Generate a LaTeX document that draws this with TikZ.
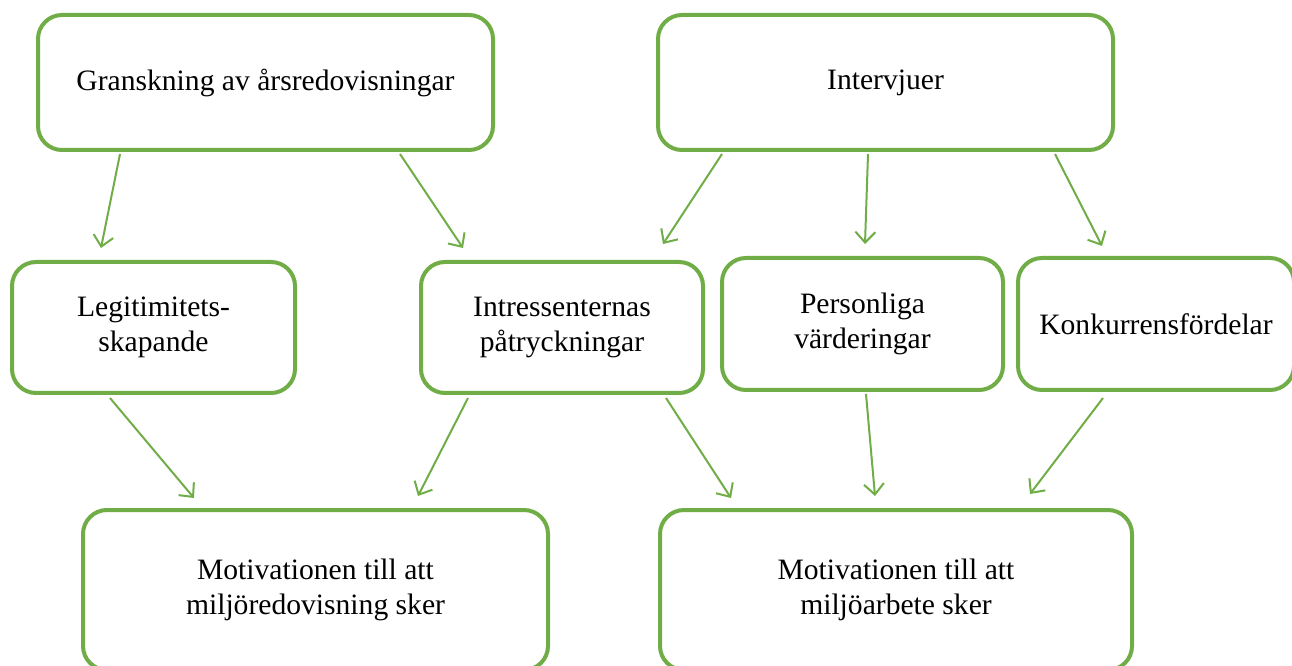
\documentclass[tikz,border=0pt]{standalone}
\usepackage{fontspec}
\setmainfont{Liberation Serif}
\usetikzlibrary{arrows.meta,calc}
\definecolor{grn}{RGB}{112,173,71}
\tikzset{
  box/.style n args={2}{draw=grn, line width=3pt, rounded corners=18pt, fill=white,
    minimum width=#1*0.75pt, minimum height=#2*0.75pt, align=center,
    font=\fontsize{22.2}{26}\selectfont, inner sep=0pt},
  conn/.style={draw=grn, line width=1.5pt, -{Straight Barb[length=8pt,width=15pt,line width=1.5pt]}}
}
\begin{document}
\begin{tikzpicture}[x=0.75pt,y=-0.75pt]
\useasboundingbox (0,0) rectangle (1292,666);
\node[box={455}{135}] (A) at (265.5,82.5) {\raisebox{-3pt}{Granskning av årsredovisningar}};
\node[box={455}{135}] (B) at (885.5,82.5) {\raisebox{-3pt}{Intervjuer}};
\node[box={283}{131}] (C) at (153.5,327.5) {Legitimitets-\\skapande};
\node[box={282}{131}] (D) at (562,327.5) {Intressenternas\\påtryckningar};
\node[box={281}{132}] (E) at (862.5,324) {Personliga\\värderingar};
\node[box={276}{132}] (F) at (1156,324) {\raisebox{-2pt}{Konkurrensfördelar}};
\node[box={465}{160}] (G) at (315.5,590) {Motivationen till att\\miljöredovisning sker};
\node[box={472}{160}] (H) at (896,590) {Motivationen till att\\miljöarbete sker};
\draw[conn] ($(A.south west)+(84,2)$) -- ($(C.north west)+(91,-12)$);
\draw[conn] ($(A.south west)+(364,2)$) -- ($(D.north west)+(44,-12)$);
\draw[conn] ($(B.south west)+(66,2)$) -- ($(D.north west)+(244,-16)$);
\draw[conn] ($(B.south west)+(212,2)$) -- ($(E.north west)+(145,-12)$);
\draw[conn] ($(B.south west)+(399,2)$) -- ($(F.north west)+(86,-10)$);
\draw[conn] ($(C.south west)+(100,3)$) -- ($(G.north west)+(113,-10)$);
\draw[conn] ($(D.south west)+(49,3)$) -- ($(G.north west)+(337,-12)$);
\draw[conn] ($(D.south west)+(247,3)$) -- ($(H.north west)+(73,-10)$);
\draw[conn] ($(E.south west)+(146,2)$) -- ($(H.north west)+(217,-12)$);
\draw[conn] ($(F.south west)+(87,6)$) -- ($(H.north west)+(372,-14)$);
\end{tikzpicture}
\end{document}
